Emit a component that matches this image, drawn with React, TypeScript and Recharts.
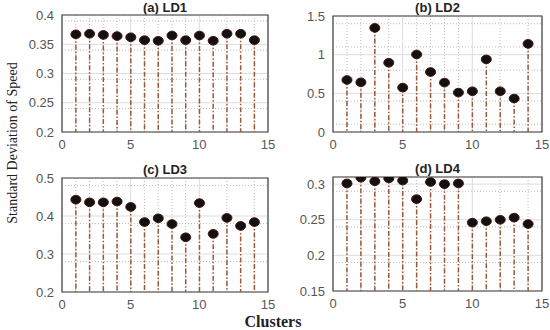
import React from "react";
import {
  ComposedChart, Bar, XAxis, YAxis, CartesianGrid, ReferenceArea,
} from "recharts";

// clusters 1..14, std of speed per load level
const clusters = [1, 2, 3, 4, 5, 6, 7, 8, 9, 10, 11, 12, 13, 14];
const ld1 = [0.367, 0.368, 0.366, 0.364, 0.362, 0.357, 0.356, 0.365, 0.357, 0.365, 0.356, 0.368, 0.368, 0.357];
const ld2 = [0.673, 0.643, 1.346, 0.896, 0.574, 1.003, 0.776, 0.639, 0.51, 0.527, 0.939, 0.527, 0.433, 1.14];
const ld3 = [0.443, 0.436, 0.436, 0.438, 0.424, 0.384, 0.394, 0.379, 0.344, 0.434, 0.353, 0.395, 0.374, 0.384];
const ld4 = [0.301, 0.309, 0.304, 0.308, 0.305, 0.279, 0.303, 0.3, 0.301, 0.246, 0.248, 0.25, 0.253, 0.244];

const xTicks = [0, 5, 10, 15];
const xMinor = [1, 2, 3, 4, 6, 7, 8, 9, 11, 12, 13, 14];

const ld1Ticks = [0.2, 0.25, 0.3, 0.35, 0.4];
const ld1Minor = [0.21, 0.22, 0.23, 0.24, 0.26, 0.27, 0.28, 0.29, 0.31, 0.32, 0.33, 0.34, 0.36, 0.37, 0.38, 0.39];
const ld2Ticks = [0, 0.5, 1, 1.5];
const ld2Minor = [0.1, 0.2, 0.3, 0.4, 0.6, 0.7, 0.8, 0.9, 1.1, 1.2, 1.3, 1.4];
const ld3Ticks = [0.2, 0.3, 0.4, 0.5];
const ld3Minor = [0.22, 0.24, 0.26, 0.28, 0.32, 0.34, 0.36, 0.38, 0.42, 0.44, 0.46, 0.48];
const ld4Ticks = [0.15, 0.2, 0.25, 0.3];
const ld4Minor = [0.16, 0.17, 0.18, 0.19, 0.21, 0.22, 0.23, 0.24, 0.26, 0.27, 0.28, 0.29];

const tickStyle = { fontSize: 13, fill: "#555", fontFamily: "Liberation Sans, Arial, sans-serif" };

const Stem = (props: any) => {
  const { x, y, width, height } = props;
  const cx = x + width / 2;
  return (
    <g>
      <line x1={cx} y1={y} x2={cx} y2={y + height} stroke="#9a5a3a" strokeWidth={1.5} strokeDasharray="5 2 1.5 2" />
      <ellipse cx={cx} cy={y} rx={5} ry={4.3} fill="#111" stroke="#4a1208" strokeWidth={1} />
    </g>
  );
};

interface PanelProps {
  values: number[];
  title: string;
  left: number;
  top: number;
  height: number;
  domain: [number, number];
  ticks: number[];
  minor: number[];
  margin: { top: number; right: number; bottom: number; left: number };
  titleTop: number;
}

function Panel({ values, title, left, top, height, domain, ticks, minor, margin, titleTop }: PanelProps) {
  const data = clusters.map((c, i) => ({ c, v: values[i] }));
  const plotCenter = margin.left + 42 + (275 - margin.left - 42 - margin.right) / 2;
  return (
    <div style={{ position: "absolute", left, top, width: 275, height }}>
      <div
        style={{
          position: "absolute", left: plotCenter - 60, width: 120, top: titleTop, textAlign: "center",
          fontFamily: "Liberation Sans, Arial, sans-serif", fontWeight: "bold", fontSize: 13, color: "#222",
        }}
      >
        {title}
      </div>
      <ComposedChart width={275} height={height} data={data} margin={margin}>
        <XAxis
          xAxisId="main" dataKey="c" type="number" domain={[0, 15]} ticks={xTicks} height={20}
          tick={tickStyle} tickLine={false} axisLine={false} allowDataOverflow
        />
        <XAxis xAxisId="minor" dataKey="c" type="number" domain={[0, 15]} ticks={xMinor} hide allowDataOverflow />
        <YAxis
          yAxisId="main" type="number" domain={domain} ticks={ticks} width={42}
          tick={tickStyle} tickLine={false} axisLine={false} allowDataOverflow
        />
        <YAxis yAxisId="minor" type="number" domain={domain} ticks={minor} hide allowDataOverflow />
        <CartesianGrid xAxisId="minor" yAxisId="minor" stroke="#bbb" strokeDasharray="1 2" />
        <CartesianGrid xAxisId="main" yAxisId="main" stroke="#ddd" />
        <Bar xAxisId="main" yAxisId="main" dataKey="v" barSize={6} shape={<Stem />} isAnimationActive={false} />
        <ReferenceArea
          xAxisId="main" yAxisId="main" x1={0} x2={15} y1={domain[0]} y2={domain[1]}
          fill="none" fillOpacity={0} stroke="#444" strokeWidth={1.2}
        />
      </ComposedChart>
    </div>
  );
}

export default function App() {
  return (
    <div style={{ position: "absolute", left: 0, top: 0, width: 550, height: 330, background: "#fff", overflow: "hidden" }}>
      <Panel
        values={ld1} title="(a) LD1" left={0} top={0} height={160}
        domain={[0.2, 0.4]} ticks={ld1Ticks} minor={ld1Minor}
        margin={{ top: 15, right: 7, bottom: 8, left: 20 }} titleTop={0}
      />
      <Panel
        values={ld2} title="(b) LD2" left={275} top={0} height={160}
        domain={[0, 1.5]} ticks={ld2Ticks} minor={ld2Minor}
        margin={{ top: 16, right: 8, bottom: 8, left: 16 }} titleTop={0}
      />
      <Panel
        values={ld3} title="(c) LD3" left={0} top={160} height={170}
        domain={[0.2, 0.5]} ticks={ld3Ticks} minor={ld3Minor}
        margin={{ top: 18, right: 7, bottom: 18, left: 20 }} titleTop={2}
      />
      <Panel
        values={ld4} title="(d) LD4" left={275} top={160} height={170}
        domain={[0.15, 0.31]} ticks={ld4Ticks} minor={ld4Minor}
        margin={{ top: 17, right: 8, bottom: 19, left: 16 }} titleTop={1}
      />
      <div
        style={{
          position: "absolute", left: 13, top: 143, transform: "translate(-50%, -50%) rotate(-90deg)",
          whiteSpace: "nowrap", fontFamily: "Liberation Serif, Times New Roman, serif", fontSize: 14, color: "#222",
        }}
      >
        Standard Deviation of Speed
      </div>
      <div
        style={{
          position: "absolute", left: 273, top: 322, transform: "translate(-50%, -50%)", lineHeight: "16px",
          whiteSpace: "nowrap", fontFamily: "Liberation Serif, Times New Roman, serif", fontWeight: "bold", fontSize: 16, color: "#222",
        }}
      >
        Clusters
      </div>
    </div>
  );
}
